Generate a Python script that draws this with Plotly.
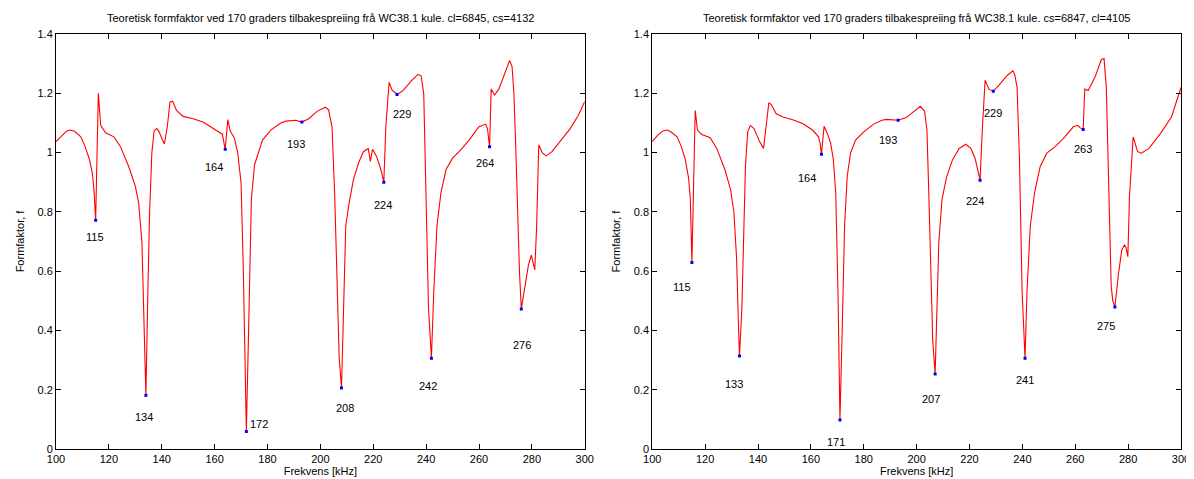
import numpy as np
import plotly.graph_objects as go

# ---------------- data ----------------
titles = [
    "Teoretisk formfaktor ved 170 graders tilbakespreiing frå WC38.1 kule. cl=6845, cs=4132",
    "Teoretisk formfaktor ved 170 graders tilbakespreiing frå WC38.1 kule. cs=6847, cl=4105",
]

freq_a = [100, 102, 104, 105.4, 107, 109.4, 111, 112.5, 113.75, 114.4, 115, 116, 116.9, 118.75,
          121.9, 124.4, 127.5, 130, 131.25, 132.5, 133.4, 134, 134.75, 135.4, 136.25, 137.1,
          138.1, 139, 140, 141, 142.1, 143.1, 144.1, 145.6, 148.1, 151.9, 155.6, 159.4, 162.9,
          164, 165, 165.9, 167.5, 168.75, 170, 170.9, 172, 172.9, 173.9, 175.1, 176.9, 178.1,
          181.25, 185, 187, 190.6, 193, 195.6, 198.75, 201.9, 203.1, 204.4, 205.4, 206.25,
          207.1, 208, 208.75, 209.6, 210.9, 212.5, 214.4, 216.25, 218.1, 218.9, 219.75, 221.25,
          222.9, 224, 224.75, 226, 227.1, 229, 231.25, 234.4, 236.9, 238.1, 239.1, 240, 240.9,
          242, 242.9, 244.1, 245.6, 247.5, 250, 253.1, 256.25, 260, 262.5, 263.2, 264, 264.6,
          265.9, 267.5, 270, 271.6, 272.5, 273.2, 273.9, 274.5, 275.3, 276, 277.2, 278.7,
          279.8, 280.4, 281.1, 281.8, 282.6, 283.9, 285.4, 287.6, 290.75, 294.5, 297.6, 300]
form_a = [1.037, 1.055, 1.072, 1.076, 1.072, 1.053, 1.02, 0.981, 0.931, 0.87, 0.772, 1.2, 1.092,
          1.067, 1.053, 1.02, 0.953, 0.887, 0.831, 0.698, 0.42, 0.181, 0.531, 0.798, 0.998,
          1.073, 1.081, 1.07, 1.048, 1.029, 1.087, 1.17, 1.173, 1.142, 1.122, 1.114, 1.103,
          1.083, 1.062, 1.011, 1.111, 1.073, 1.048, 0.998, 0.898, 0.587, 0.059, 0.42, 0.842,
          0.959, 1.009, 1.042, 1.076, 1.1, 1.106, 1.109, 1.103, 1.114, 1.139, 1.153, 1.144,
          1.087, 0.864, 0.531, 0.309, 0.206, 0.476, 0.753, 0.831, 0.909, 0.964, 1.003, 1.014,
          0.97, 1.011, 0.987, 0.942, 0.9, 1.087, 1.237, 1.211, 1.196, 1.209, 1.242, 1.264,
          1.259, 1.198, 0.864, 0.476, 0.306, 0.531, 0.753, 0.864, 0.942, 0.981, 1.009, 1.042,
          1.087, 1.096, 1.081, 1.02, 1.214, 1.194, 1.214, 1.276, 1.311, 1.29, 1.2, 1.02, 0.8,
          0.6, 0.472, 0.532, 0.621, 0.654, 0.632, 0.604, 0.75, 1.026, 1.0, 0.989, 1.003, 1.037,
          1.081, 1.126, 1.172]

freq_b = [100, 102, 104, 105.6, 107, 109.4, 111, 112.5, 113.75, 114.4, 115, 115.6, 116.25,
          117.1, 118.75, 121.9, 124.4, 127.5, 129.6, 130.9, 131.9, 132.6, 133, 133.9, 134.6,
          135.25, 136.1, 137.1, 138.5, 140.6, 142.1, 143.1, 144.1, 145, 146.9, 149.4, 153.1,
          156.9, 160.6, 162.9, 163.5, 164, 165, 166.25, 167.5, 168.5, 169.4, 170.25, 171,
          171.9, 172.75, 173.75, 175, 176.9, 180, 183.75, 186.9, 188.6, 191, 193, 196.1, 199.25,
          201.4, 203, 203.9, 204.6, 205.5, 206.1, 207, 207.6, 208.4, 209.6, 211.4, 213.6, 216.1,
          218.6, 220.5, 222.1, 223.25, 224, 224.9, 225.9, 227.4, 229, 231.1, 234.25, 236.4,
          237.1, 238, 238.9, 239.9, 241, 241.75, 243, 244.6, 246.75, 249.25, 252.4, 256.1,
          259.25, 260.9, 261.75, 263, 263.6, 264.9, 267.4, 269.9, 270.9, 271.75, 272.6, 273.6,
          274.2, 275, 276.3, 277.6, 278.6, 279.2, 279.9, 280.5, 281.9, 283.6, 285, 287.9,
          292.2, 296.4, 300]
form_b = [1.037, 1.058, 1.073, 1.076, 1.07, 1.053, 1.02, 0.976, 0.914, 0.842, 0.629, 0.864,
          1.142, 1.076, 1.061, 1.05, 1.014, 0.942, 0.876, 0.798, 0.642, 0.42, 0.314, 0.476,
          0.753, 0.953, 1.07, 1.091, 1.081, 1.037, 1.014, 1.098, 1.168, 1.162, 1.131, 1.12,
          1.111, 1.098, 1.076, 1.053, 1.031, 0.994, 1.089, 1.064, 1.031, 0.976, 0.864, 0.531,
          0.098, 0.42, 0.753, 0.92, 0.998, 1.042, 1.07, 1.096, 1.109, 1.112, 1.111, 1.109,
          1.118, 1.142, 1.156, 1.14, 1.076, 0.864, 0.531, 0.364, 0.253, 0.476, 0.698, 0.842,
          0.92, 0.976, 1.014, 1.028, 1.014, 0.981, 0.942, 0.907, 1.087, 1.244, 1.213, 1.207,
          1.227, 1.26, 1.276, 1.264, 1.22, 0.976, 0.531, 0.306, 0.531, 0.753, 0.864, 0.953,
          0.998, 1.02, 1.053, 1.087, 1.092, 1.084, 1.078, 1.214, 1.209, 1.253, 1.314, 1.317,
          1.22, 0.92, 0.55, 0.5, 0.479, 0.588, 0.671, 0.688, 0.68, 0.649, 0.85, 1.053, 1.003,
          0.998, 1.014, 1.064, 1.12, 1.22]

marks_a = [115, 134, 164, 172, 193, 208, 224, 229, 242, 264, 276]
marks_b = [115, 133, 164, 171, 193, 207, 224, 229, 241, 263, 275]

# label placement relative to the marked point (style, not data)
offs_a = [(-0.1, -0.057), (-0.9, -0.072), (-4.3, -0.061), (4.9, 0.024), (-2.1, -0.075),
          (1.4, -0.069), (-0.5, -0.077), (2.0, -0.066), (-1.4, -0.095), (-1.75, -0.056),
          (0.1, -0.12)]
offs_b = [(-3.75, -0.082), (-2.1, -0.094), (-5.4, -0.081), (-1.4, -0.075), (-3.75, -0.067),
          (-1.75, -0.083), (-2.0, -0.07), (0.0, -0.074), (-0.1, -0.073), (-0.25, -0.065),
          (-3.4, -0.065)]

# ---------------- figure ----------------
FONT = "Liberation Sans, Arial, Helvetica, sans-serif"
fig = go.Figure()

panels = [
    (freq_a, form_a, marks_a, offs_a, "x", "y"),
    (freq_b, form_b, marks_b, offs_b, "x2", "y2"),
]
for fr, fo, mk, offs, xa, ya in panels:
    fig.add_trace(go.Scatter(x=fr, y=fo, mode="lines", xaxis=xa, yaxis=ya,
                             line=dict(color="#ff0000", width=1.1), showlegend=False,
                             hoverinfo="x+y"))
    mv = np.interp(mk, fr, fo)
    fig.add_trace(go.Scatter(x=mk, y=mv, mode="markers", xaxis=xa, yaxis=ya,
                             marker=dict(color="#0000ff", size=3, symbol="square",
                                         line=dict(width=0)),
                             showlegend=False))
    for m, v, (dx, dy) in zip(mk, mv, offs):
        fig.add_annotation(x=m + dx, y=v + dy, xref=xa, yref=ya, text=str(m),
                           showarrow=False, xanchor="center", yanchor="middle",
                           font=dict(family=FONT, size=11, color="black"))

axis_common = dict(
    showline=True, linecolor="black", linewidth=1, mirror="ticks",
    ticks="inside", ticklen=5, tickcolor="black", tickwidth=1,
    showgrid=False, zeroline=False,
    tickfont=dict(family=FONT, size=11, color="black"),
)
xa_common = dict(axis_common, range=[100, 300], dtick=20, tick0=100,
                 title=dict(text="Frekvens [kHz]", font=dict(family=FONT, size=11, color="black"),
                            standoff=2))
ya_common = dict(axis_common, range=[0, 1.4], dtick=0.2, tick0=0,
                 title=dict(text="Formfaktor, f", font=dict(family=FONT, size=11, color="black"),
                            standoff=10))

fig.update_layout(
    width=1194, height=479,
    margin=dict(l=48, r=12, t=26, b=33),
    paper_bgcolor="white", plot_bgcolor="white",
    xaxis=dict(xa_common, domain=[0, 0.470], anchor="y"),
    yaxis=dict(ya_common, domain=[0, 1], anchor="x"),
    xaxis2=dict(xa_common, domain=[0.530, 1], anchor="y2"),
    yaxis2=dict(ya_common, domain=[0, 1], anchor="x2"),
    font=dict(family=FONT, size=11, color="black"),
)

for i, t in enumerate(titles):
    dom = [0, 0.470] if i == 0 else [0.530, 1]
    fig.add_annotation(x=(dom[0] + dom[1]) / 2, y=1, xref="paper", yref="paper",
                       yshift=8, text=t, showarrow=False, xanchor="center", yanchor="bottom",
                       font=dict(family=FONT, size=11, color="black"))

fig.write_html("out.html")
